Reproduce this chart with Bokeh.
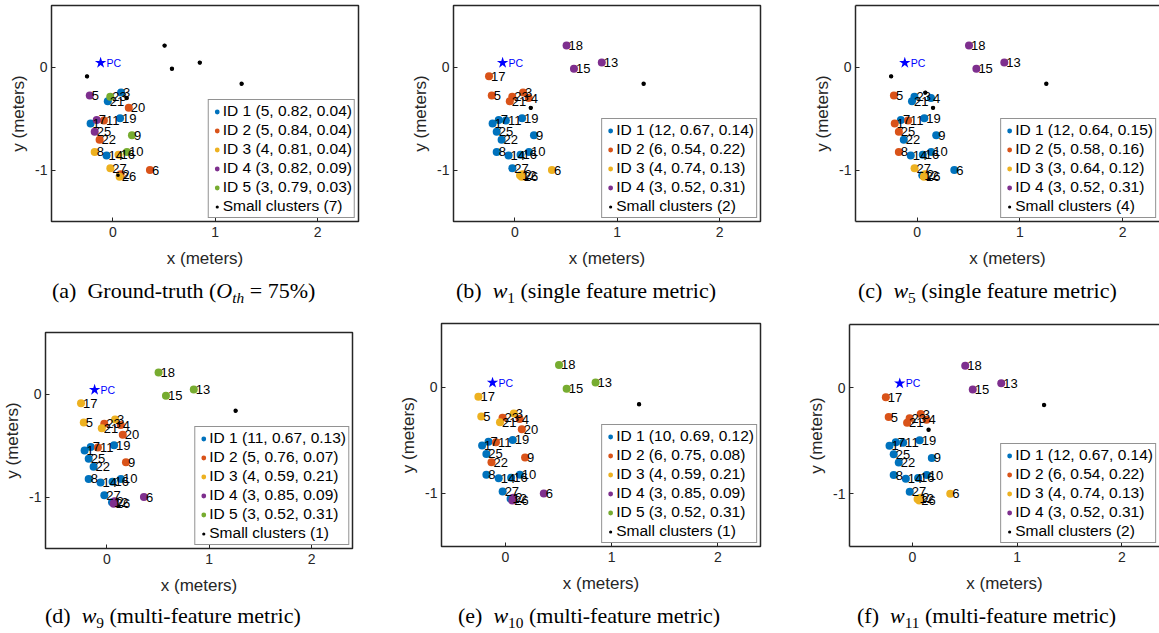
from bokeh.plotting import figure
from bokeh.models import Legend, LegendItem, LinearAxis, Range1d, Div, FixedTicker, PrintfTickFormatter
from bokeh.layouts import row, column
from bokeh.embed import file_html
from bokeh.resources import INLINE
from bokeh.core.properties import value

# ---------------- data ----------------
point_ids = list(range(1, 28))
point_x = [-0.218, 0.075, 0.080, 0.135, -0.226, 0.362, -0.158, -0.178, 0.186, 0.137,
           -0.088, 0.050, 0.849, -0.062, 0.577, 0.055, -0.253, 0.505, 0.070, 0.155,
           -0.050, -0.130, -0.026, 1.258, -0.178, 0.066, -0.025]
point_y = [-0.548, -1.040, -0.247, -0.300, -0.275, -1.000, -0.513, -0.824, -0.662, -0.824,
           -0.518, -1.050, 0.045, -0.858, -0.015, -0.852, -0.089, 0.210, -0.496, -0.395,
           -0.330, -0.706, -0.288, -0.161, -0.628, -1.066, -0.982]
pc_x = [-0.12]
pc_y = [0.043]

# cluster id of every point (0 = small cluster)
clusters_a = [1, 2, 1, 0, 4, 2, 4, 3, 5, 5, 2, 0, 0, 1, 0, 3, 0, 0, 1, 2, 1, 2, 5, 0, 4, 3, 3]
clusters_b = [1, 3, 2, 2, 2, 3, 1, 1, 1, 1, 1, 3, 4, 1, 4, 1, 2, 4, 1, 0, 2, 1, 2, 0, 1, 3, 1]
clusters_c = [2, 3, 0, 1, 2, 1, 1, 2, 1, 1, 2, 1, 4, 1, 4, 1, 0, 4, 1, 0, 1, 1, 1, 0, 2, 3, 3]
clusters_d = [1, 4, 3, 2, 3, 4, 1, 1, 2, 1, 2, 1, 5, 1, 5, 1, 3, 5, 1, 2, 3, 1, 2, 0, 1, 4, 1]
clusters_e = [1, 4, 3, 2, 3, 4, 1, 1, 2, 1, 2, 1, 5, 1, 5, 1, 3, 5, 1, 2, 3, 2, 2, 0, 1, 4, 1]
clusters_f = [1, 3, 2, 2, 2, 3, 1, 1, 1, 1, 1, 3, 4, 1, 4, 1, 2, 4, 1, 0, 2, 1, 2, 0, 1, 3, 1]

# legend statistics (size, value 1, value 2) per cluster
stats_a = [(5, "0.82", "0.04"), (5, "0.84", "0.04"), (4, "0.81", "0.04"), (3, "0.82", "0.09"), (3, "0.79", "0.03")]
stats_b = [(12, "0.67", "0.14"), (6, "0.54", "0.22"), (4, "0.74", "0.13"), (3, "0.52", "0.31")]
stats_c = [(12, "0.64", "0.15"), (5, "0.58", "0.16"), (3, "0.64", "0.12"), (3, "0.52", "0.31")]
stats_d = [(11, "0.67", "0.13"), (5, "0.76", "0.07"), (4, "0.59", "0.21"), (3, "0.85", "0.09"), (3, "0.52", "0.31")]
stats_e = [(10, "0.69", "0.12"), (6, "0.75", "0.08"), (4, "0.59", "0.21"), (3, "0.85", "0.09"), (3, "0.52", "0.31")]
stats_f = [(12, "0.67", "0.14"), (6, "0.54", "0.22"), (4, "0.74", "0.13"), (3, "0.52", "0.31")]
small_counts = [7, 2, 4, 1, 1, 2]

x_ticks = [0, 1, 2]
y_ticks = [-1, 0]

SUB = "<sub style='font-size:70%;line-height:0'>"
captions = [
    f"(a)&ensp;Ground-truth (<i>O</i>{SUB}<i>th</i></sub> = 75%)",
    f"(b)&ensp;<i>w</i>{SUB}1</sub> (single feature metric)",
    f"(c)&ensp;<i>w</i>{SUB}5</sub> (single feature metric)",
    f"(d)&ensp;<i>w</i>{SUB}9</sub> (multi-feature metric)",
    f"(e)&ensp;<i>w</i>{SUB}10</sub> (multi-feature metric)",
    f"(f)&ensp;<i>w</i>{SUB}11</sub> (multi-feature metric)",
]

COLORS = ["#0072BD", "#D95319", "#EDB120", "#7E2F8E", "#77AC30"]
AX = "#262626"
FONT = "Liberation Sans"


def style_axis(ax, ticks, line):
    ax.ticker = FixedTicker(ticks=ticks)
    ax.formatter = PrintfTickFormatter(format="%d")
    ax.major_tick_in = 4
    ax.major_tick_out = 0
    ax.minor_tick_in = 0
    ax.minor_tick_out = 0
    ax.major_tick_line_color = AX
    ax.major_tick_line_width = 1
    ax.axis_line_color = AX if line else None
    ax.axis_line_width = 1.5
    ax.major_label_text_font = FONT
    ax.major_label_text_font_size = "14px"
    ax.major_label_text_color = AX
    ax.axis_label_text_font = FONT
    ax.axis_label_text_font_size = "17px"
    ax.axis_label_text_font_style = "normal"
    ax.axis_label_text_color = AX


def make_panel(clusters, stats, n_small, left, fw, right, top, fh, bottom, xmax, cut):
    p = figure(frame_width=fw, frame_height=fh,
               min_border_left=left, min_border_right=right,
               min_border_top=top, min_border_bottom=bottom,
               x_range=Range1d(-0.6, xmax), y_range=Range1d(-1.5, 0.6),
               output_backend="svg", toolbar_location=None,
               x_axis_label="x (meters)", y_axis_label="y (meters)")
    p.grid.visible = False
    p.background_fill_color = "white"
    p.border_fill_color = "white"
    xax = p.below[0]
    yax = p.left[0]
    if cut:
        p.outline_line_color = None
        top_ax = LinearAxis(ticker=FixedTicker(ticks=[]), axis_line_color=AX, axis_line_width=1.5,
                            major_tick_in=0, major_tick_out=0, minor_tick_in=0, minor_tick_out=0,
                            major_label_standoff=0)
        p.add_layout(top_ax, "above")
    else:
        p.outline_line_color = AX
        p.outline_line_width = 1.5

    style_axis(xax, x_ticks, cut)
    xax.major_label_standoff = 5
    xax.axis_label_standoff = 9
    style_axis(yax, y_ticks, cut)
    yax.major_label_standoff = 4
    yax.axis_label_standoff = 4

    n = len(point_ids)
    sx = [point_x[i] for i in range(n) if clusters[i] == 0]
    sy = [point_y[i] for i in range(n) if clusters[i] == 0]
    # renderer that carries the legend glyph for the small clusters (drawn first, hidden below)
    small_leg = p.scatter(sx, sy, size=6, fill_color="black", line_color="white", line_width=1.6)

    items = []
    for k in range(1, len(stats) + 1):
        xs = [point_x[i] for i in range(n) if clusters[i] == k]
        ys = [point_y[i] for i in range(n) if clusters[i] == k]
        r = p.scatter(xs, ys, size=8, fill_color=COLORS[k - 1], line_color=None)
        cnt, s1, s2 = stats[k - 1]
        items.append(LegendItem(label=f"ID {k} ({cnt}, {s1}, {s2})", renderers=[r]))
    items.append(LegendItem(label=f"Small clusters ({n_small})", renderers=[small_leg]))

    p.scatter(sx, sy, size=3.6, fill_color="black", line_color=None)

    p.scatter(pc_x, pc_y, marker="star", size=12, fill_color="#0000FF", line_color=None)
    p.text(pc_x, pc_y, text=["PC"], x_offset=6, text_baseline="middle", text_align="left",
           text_font=value(FONT), text_font_size="10.5px", text_color="#0000FF")

    lx = [point_x[i] for i in range(n) if clusters[i] != 0]
    ly = [point_y[i] for i in range(n) if clusters[i] != 0]
    lt = [str(point_ids[i]) for i in range(n) if clusters[i] != 0]
    p.text(lx, ly, text=lt, x_offset=2, text_baseline="middle", text_align="left",
           text_font=value(FONT), text_font_size="13px", text_color="black")

    legend = Legend(items=items, location="bottom_right", margin=3, padding=2, spacing=1,
                    label_height=15, glyph_height=15, glyph_width=12, label_standoff=0,
                    label_text_font=FONT, label_text_font_size="15.5px", label_text_color="black",
                    border_line_color=AX, border_line_width=1.6,
                    background_fill_color="white", background_fill_alpha=1.0)
    p.add_layout(legend)
    return p


def caption(html, width, height, pad_left, pad_top):
    style = ("font-family:'Liberation Serif';font-size:22px;line-height:22px;white-space:nowrap;"
             f"padding-left:{pad_left}px;padding-top:{pad_top}px;color:#000;margin:0;")
    return Div(text=f'<div style="{style}">{html}</div>', width=width, height=height,
               margin=(0, 0, 0, 0))


pa = make_panel(clusters_a, stats_a, small_counts[0], 51, 307, 42, 5, 216, 52, 2.4, False)
pb = make_panel(clusters_b, stats_b, small_counts[1], 53, 307, 40, 5, 216, 52, 2.4, False)
pc = make_panel(clusters_c, stats_c, small_counts[2], 55, 304, 0, 5, 216, 52, 2.36, True)
pd = make_panel(clusters_d, stats_d, small_counts[3], 45, 307, 44, 14, 216, 52, 2.4, False)
pe = make_panel(clusters_e, stats_e, small_counts[4], 45, 319, 40, 5, 223, 52, 2.4, False)
pf = make_panel(clusters_f, stats_f, small_counts[5], 49, 310, 0, 6, 222, 52, 2.36, True)

ca = caption(captions[0], 400, 45, 52, 7)
cb = caption(captions[1], 400, 45, 56, 7)
cc = caption(captions[2], 359, 45, 58, 7)
cd = caption(captions[3], 396, 33, 45, 5)
ce = caption(captions[4], 404, 35, 62, 7)
cf = caption(captions[5], 359, 35, 57, 7)

top_row = row(column(pa, ca, spacing=0), column(pb, cb, spacing=0), column(pc, cc, spacing=0), spacing=0)
bottom_row = row(column(pd, cd, spacing=0), column(pe, ce, spacing=0), column(pf, cf, spacing=0), spacing=0)
layout = column(top_row, bottom_row, spacing=0)

open("out.html", "w").write(file_html(layout, INLINE))
